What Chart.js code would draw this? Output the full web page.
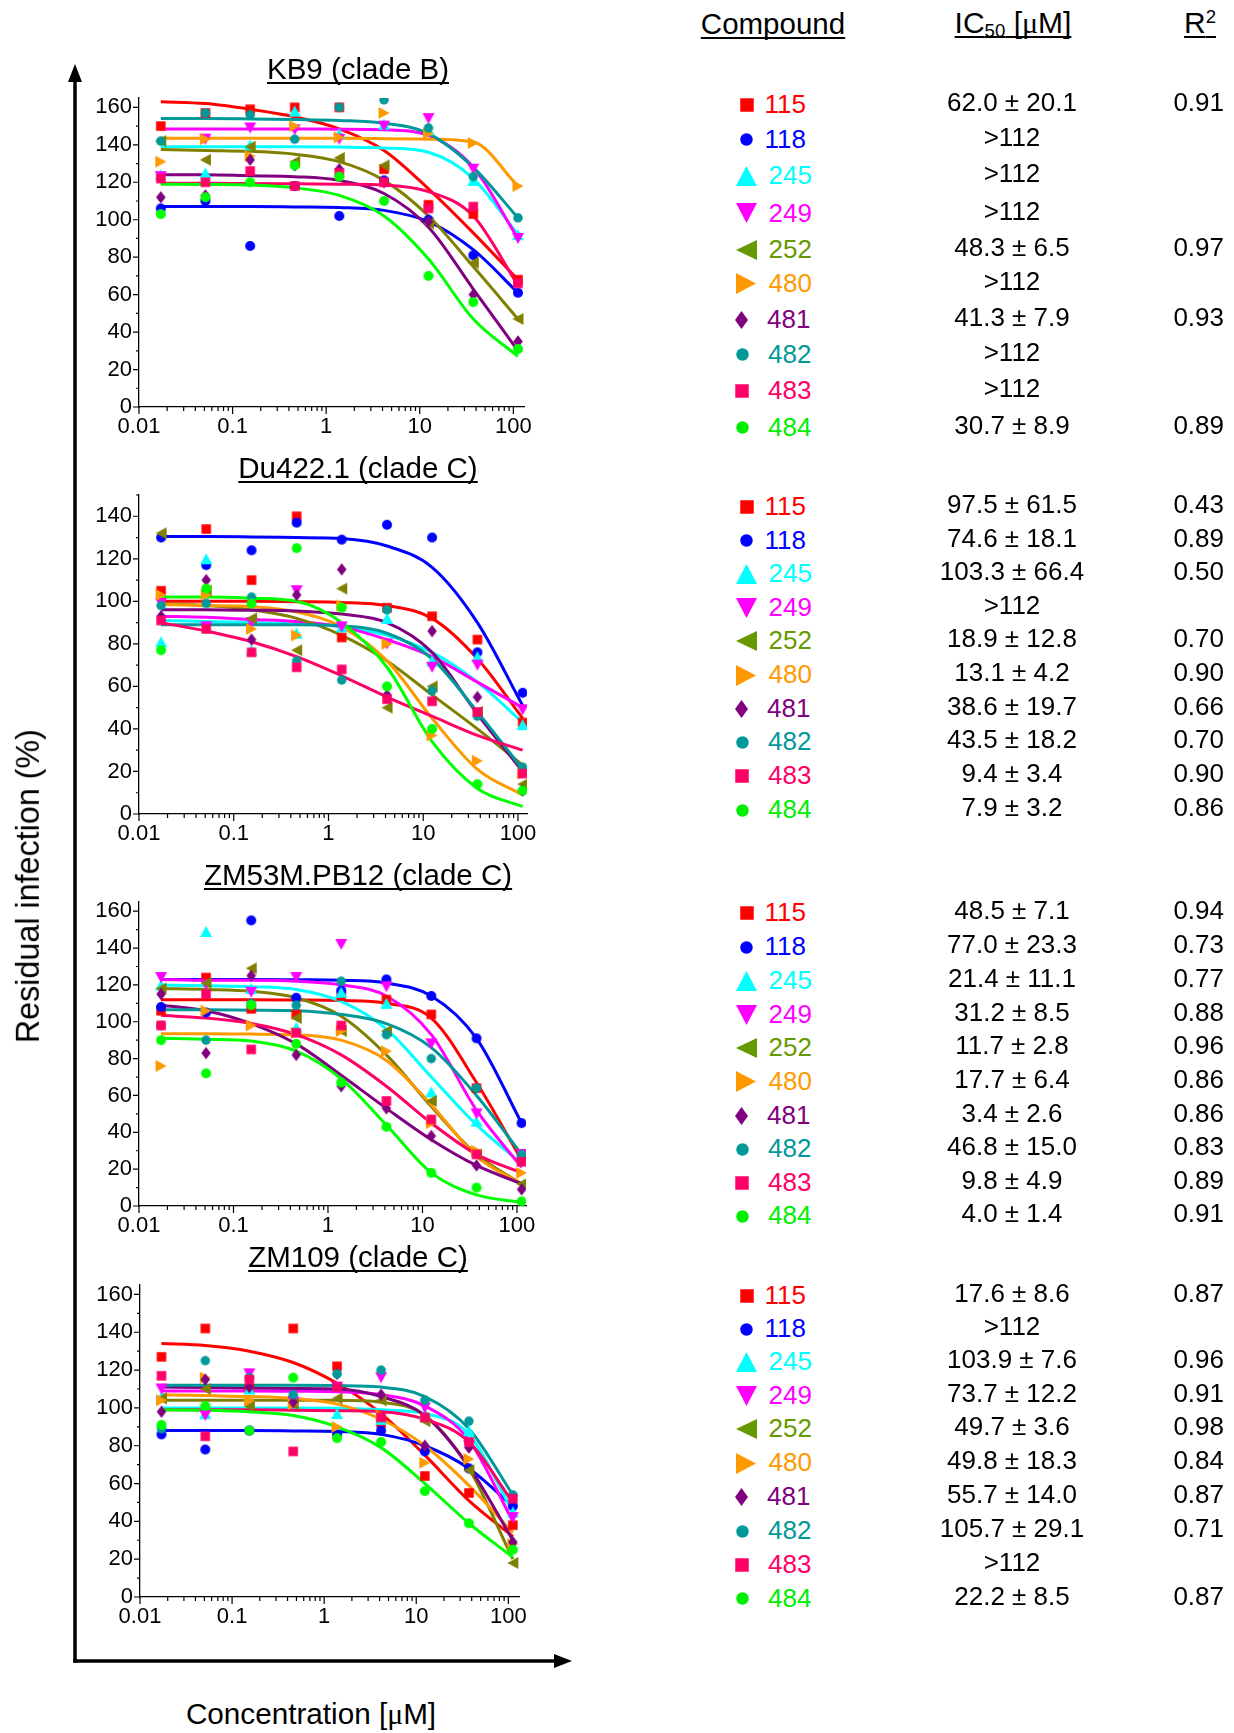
<!DOCTYPE html>
<html><head><meta charset="utf-8">
<script src="https://cdn.jsdelivr.net/npm/chart.js@4.4.0/dist/chart.umd.min.js"></script>
<style>
html,body{margin:0;padding:0;background:#fff;}
body{width:1234px;height:1733px;position:relative;overflow:hidden;font-family:"Liberation Sans",Arial,sans-serif;}
.t{position:absolute;white-space:nowrap;line-height:1;}
.u{text-decoration:underline;text-decoration-thickness:2px;text-underline-offset:3px;text-decoration-skip-ink:none;}
.mu{font-family:"Liberation Serif","Times New Roman",serif;}
.sub{font-size:0.62em;position:relative;top:0.2em;}
.sup{font-size:0.62em;position:relative;top:-0.55em;}
canvas.c{position:absolute;left:0;}
canvas.m{position:absolute;}
</style></head><body>
<svg width="1234" height="1733" style="position:absolute;left:0;top:0">
<line x1="75" y1="1662.75" x2="75" y2="79" stroke="#000" stroke-width="3.5"/>
<polygon points="75,64 68,82 82,82" fill="#000"/>
<line x1="73.25" y1="1661" x2="557" y2="1661" stroke="#000" stroke-width="3.5"/>
<polygon points="572,1661 554,1654 554,1668" fill="#000"/>
</svg>
<script>
// ---------------- DATA ----------------
const conc = [0.0171, 0.0512, 0.154, 0.461, 1.38, 4.15, 12.4, 37.3, 112];
const compounds = ['115', '118', '245', '249', '252', '480', '481', '482', '483', '484'];
const xTickValues = [0.01, 0.1, 1, 10, 100];
const xTickLabels = ['0.01', '0.1', '1', '10', '100'];
const yTicks160 = [0, 20, 40, 60, 80, 100, 120, 140, 160];
const yTicks140 = [0, 20, 40, 60, 80, 100, 120, 140];
const panelTitles = ['KB9 (clade B)', 'Du422.1 (clade C)', 'ZM53M.PB12 (clade C)', 'ZM109 (clade C)'];

// KB9 (clade B)
const kb9Points = [
  [150, 157, 159, 160, 160, 127, 108, 103, 68],
  [106, 110, 86, 118, 102, 121, 100, 81, 61],
  [124, 125, 140, 158, 146, 151, 148, 121, 92],
  [123, 143, 149, 148, 143, 150, 154, 127, 90],
  [142, 132, 139, 131, 133, 129, 98, 77, 47],
  [131, 143, 134, 150, 144, 157, 146, 141, 118],
  [112, 113, 132, 129, 127, 120, 99, 60, 35],
  [142, 157, 156, 143, 160, 164, 149, 123, 101],
  [122, 120, 126, 118, 125, 120, 106, 107, 66],
  [103, 112, 120, 129, 123, 110, 70, 56, 31]
];
const kb9Curves = [
  [163, 162, 159, 155, 148.5, 137, 116.5, 93, 68],
  [107, 107, 107, 106.8, 106.5, 105, 99, 84, 61],
  [139, 139, 139, 139, 138.8, 138.3, 136, 122, 92],
  [148.5, 148.5, 148.5, 148.5, 148.3, 148, 145, 128, 90],
  [137.5, 137, 136.5, 135, 131, 121, 102, 75, 47],
  [143.5, 143.5, 143.5, 143.5, 143.5, 143.3, 143, 141.5, 118],
  [124, 124, 123.5, 123, 121, 114, 96, 63, 30],
  [154, 154, 153.8, 153.5, 153, 151.5, 146, 128, 101],
  [119.5, 119.5, 119.3, 119.2, 119, 118.5, 115, 102, 65],
  [119, 118.8, 118.5, 117, 113, 102, 79, 47, 27]
];
const kb9IC50 = ['62.0 ± 20.1', '>112', '>112', '>112', '48.3 ± 6.5', '>112', '41.3 ± 7.9', '>112', '>112', '30.7 ± 8.9'];
const kb9R2 = ['0.91', '', '', '', '0.97', '', '0.93', '', '', '0.89'];

// Du422.1 (clade C)
const du422Points = [
  [105, 134, 110, 140, 83, 97, 93, 82, 43],
  [130, 117, 124, 137, 129, 136, 130, 76, 57],
  [81, 120, 77, 85, 88, 92, 72, 74, 42],
  [99, 88, 90, 105, 88, 80, 69, 70, 49],
  [132, 105, 92, 77, 106, 50, 60, 48, 14],
  [103, 103, 87, 84, 98, 80, 37, 25, 19],
  [93, 110, 82, 103, 115, 56, 86, 55, 11],
  [98, 99, 102, 72, 63, 96, 58, 46, 22],
  [91, 87, 76, 69, 68, 54, 53, 48, 19],
  [77, 106, 99, 125, 97, 60, 40, 14, 11]
];
const du422Curves = [
  [100, 100, 100, 99.8, 99.5, 98, 92, 73, 45],
  [130.5, 130.5, 130.3, 130, 129.5, 126, 116, 90, 51],
  [91, 90.5, 90, 89.5, 88, 84, 76, 62, 43],
  [93, 92.5, 91.5, 90.5, 88, 82, 74, 62, 50],
  [99, 98, 96, 92, 84, 72, 56, 40, 23],
  [98.5, 98, 97.5, 95, 88, 72, 45, 21, 9],
  [96, 96, 95.8, 95.5, 94, 90, 76, 47, 20],
  [89, 89, 89, 89, 88.5, 85, 73, 48, 21],
  [90, 86, 81, 74, 65, 55, 46, 37, 30],
  [102, 102, 101.5, 100, 90, 69, 34, 12, 3.5]
];
const du422IC50 = ['97.5 ± 61.5', '74.6 ± 18.1', '103.3 ± 66.4', '>112', '18.9 ± 12.8', '13.1 ± 4.2', '38.6 ± 19.7', '43.5 ± 18.2', '9.4 ± 3.4', '7.9 ± 3.2'];
const du422R2 = ['0.43', '0.89', '0.50', '', '0.70', '0.90', '0.66', '0.70', '0.90', '0.86'];

// ZM53M.PB12 (clade C)
const zm53Points = [
  [106, 124, 107, 104, 114, 112, 104, 64, 26],
  [108, 105, 155, 113, 117, 123, 114, 91, 45],
  [120, 149, 118, 97, 116, 110, 62, 46, 25],
  [124, 120, 116, 124, 142, 119, 88, 50, 28],
  [118, 121, 129, 102, 95, 95, 57, 28, 12],
  [76, 106, 98, 94, 95, 84, 45, 30, 18],
  [115, 83, 125, 82, 65, 53, 38, 22, 9],
  [98, 90, 110, 109, 122, 93, 80, 64, 28],
  [98, 115, 85, 94, 98, 57, 47, 28, 24],
  [90, 72, 109, 88, 67, 43, 18, 10, 2.5]
];
const zm53Curves = [
  [112, 112, 112, 111.8, 111.5, 110, 102, 67, 25],
  [123, 123, 123, 122.8, 122.5, 121, 114, 91, 45],
  [120, 119.5, 119, 117.5, 111, 96, 70, 44, 23],
  [123, 122.5, 122.5, 122, 120, 114, 93, 52, 21],
  [118, 117.5, 116.5, 113, 103, 82, 54, 28, 12],
  [93.5, 93.5, 93.3, 93, 90, 79, 55, 27, 12],
  [109, 106, 99, 88, 71, 53, 36, 22, 12],
  [106.5, 106.5, 106.3, 106, 104, 99, 86, 60, 28],
  [103.5, 102, 99, 93, 82, 65, 45, 28, 18],
  [91, 90.5, 89.5, 84, 69, 44, 18, 6, 2]
];
const zm53IC50 = ['48.5 ± 7.1', '77.0 ± 23.3', '21.4 ± 11.1', '31.2 ± 8.5', '11.7 ± 2.8', '17.7 ± 6.4', '3.4 ± 2.6', '46.8 ± 15.0', '9.8 ± 4.9', '4.0 ± 1.4'];
const zm53R2 = ['0.94', '0.73', '0.77', '0.88', '0.96', '0.86', '0.86', '0.83', '0.89', '0.91'];

// ZM109 (clade C)
const zm109Points = [
  [127, 142, 110, 142, 122, 92, 64, 55, 38],
  [86, 78, 88, 105, 86, 88, 77, 68, 48],
  [106, 97, 110, 103, 97, 94, 97, 88, 45],
  [110, 96, 118, 103, 111, 116, 100, 80, 42],
  [105, 110, 101, 102, 105, 104, 93, 67, 18],
  [104, 116, 104, 102, 90, 96, 71, 73, 28],
  [98, 115, 111, 103, 118, 107, 80, 79, 29],
  [89, 125, 116, 107, 118, 120, 104, 93, 54],
  [117, 85, 115, 77, 111, 95, 95, 82, 52],
  [91, 101, 88, 116, 84, 82, 56, 39, 25]
];
const zm109Curves = [
  [134, 133, 130, 124, 113, 97, 75, 51, 32],
  [88, 88, 88, 87.8, 87.5, 86, 80, 68, 48],
  [100, 100, 100, 100, 99.8, 99, 97, 86, 45],
  [109, 109, 109, 108.8, 108.5, 107, 101, 83, 40],
  [104, 104, 104, 104, 104, 103, 96, 68, 20],
  [107, 106.5, 106, 105, 102, 94, 80, 59, 34],
  [111, 110.8, 110.5, 110.3, 110, 106, 96, 69, 30],
  [112, 112, 112, 112, 111.8, 111, 106, 89, 54],
  [99, 99, 99, 98.8, 98.5, 98, 94, 82, 50],
  [99, 98.8, 98, 96, 90, 79, 60, 39, 21]
];
const zm109IC50 = ['17.6 ± 8.6', '>112', '103.9 ± 7.6', '73.7 ± 12.2', '49.7 ± 3.6', '49.8 ± 18.3', '55.7 ± 14.0', '105.7 ± 29.1', '>112', '22.2 ± 8.5'];
const zm109R2 = ['0.87', '', '0.96', '0.91', '0.98', '0.84', '0.87', '0.71', '', '0.87'];

// ---------------- STYLE / LAYOUT ----------------
const plotColors = ['#FF0000', '#0000FF', '#00FFFF', '#FF00FF', '#808000', '#FF9900', '#800080', '#009999', '#FF0066', '#00FF00'];
const legendColors = ['#FF0000', '#0000FF', '#00FFFF', '#FF00FF', '#669900', '#FF9900', '#800080', '#009999', '#FF0066', '#00EE00'];
const shapes = ['square', 'circle', 'triUp', 'triDown', 'triLeft', 'triRight', 'diamond', 'circle', 'square', 'circle'];
const plotSizes = {square: [9.5, 9.5], circle: [10, 10], triUp: [12, 11], triDown: [12, 11], triLeft: [11, 12], triRight: [11, 12], diamond: [9.5, 12.5]};
const tableSizes = {square: [13.5, 13.5], circle: [12.5, 12.5], triUp: [21, 20], triDown: [21, 20], triLeft: [21, 20], triRight: [20, 21], diamond: [13, 18]};

const panels = [
  {points: kb9Points, curves: kb9Curves, ic50: kb9IC50, r2: kb9R2, yTicks: yTicks160, ymax: 165, xmax: 130,
   box: {left: 139, right: 524, top: 98, bottom: 407}, titleBase: 78.5,
   rows: [113.5, 148, 184.5, 221.7, 258.3, 292, 328.3, 363, 399.3, 436]},
  {points: du422Points, curves: du422Curves, ic50: du422IC50, r2: du422R2, yTicks: yTicks140, ymax: 150, xmax: 124.5,
   box: {left: 139, right: 527, top: 495, bottom: 814}, titleBase: 477.5,
   rows: [515, 549, 582.5, 616.5, 649.5, 683.5, 717.5, 750.5, 784.5, 818.5]},
  {points: zm53Points, curves: zm53Curves, ic50: zm53IC50, r2: zm53R2, yTicks: yTicks160, ymax: 165, xmax: 124.6,
   box: {left: 139, right: 526, top: 902, bottom: 1206}, titleBase: 885,
   rows: [921.5, 955.5, 989, 1023, 1056.5, 1090, 1124, 1157.5, 1191, 1224.5]},
  {points: zm109Points, curves: zm109Curves, ic50: zm109IC50, r2: zm109R2, yTicks: yTicks160, ymax: 165, xmax: 130.6,
   box: {left: 140, right: 519, top: 1285, bottom: 1597}, titleBase: 1267,
   rows: [1304.5, 1337.5, 1370.5, 1404, 1437.5, 1471.5, 1505.5, 1539.5, 1573, 1606.7]}
];
const markerX = [746.5, 746.5, 746.5, 746.3, 746.5, 746.3, 741.6, 742, 742.3, 742];
const textX = [764.5, 764.5, 768.5, 768.5, 768.5, 768.5, 767, 768, 768, 768];

function makeMarker(shape, color, w, h) {
  const pad = 1;
  const c = document.createElement('canvas');
  const W = Math.ceil(w) + 2 * pad, H = Math.ceil(h) + 2 * pad;
  c.width = W; c.height = H;
  const g = c.getContext('2d');
  g.fillStyle = color;
  const cx = W / 2, cy = H / 2;
  g.beginPath();
  switch (shape) {
    case 'square': g.rect(cx - w / 2, cy - h / 2, w, h); break;
    case 'circle': g.ellipse(cx, cy, w / 2, h / 2, 0, 0, Math.PI * 2); break;
    case 'triUp': g.moveTo(cx, cy - h / 2); g.lineTo(cx + w / 2, cy + h / 2); g.lineTo(cx - w / 2, cy + h / 2); break;
    case 'triDown': g.moveTo(cx - w / 2, cy - h / 2); g.lineTo(cx + w / 2, cy - h / 2); g.lineTo(cx, cy + h / 2); break;
    case 'triLeft': g.moveTo(cx - w / 2, cy); g.lineTo(cx + w / 2, cy - h / 2); g.lineTo(cx + w / 2, cy + h / 2); break;
    case 'triRight': g.moveTo(cx + w / 2, cy); g.lineTo(cx - w / 2, cy - h / 2); g.lineTo(cx - w / 2, cy + h / 2); break;
    case 'diamond': g.moveTo(cx, cy - h / 2); g.lineTo(cx + w / 2, cy); g.lineTo(cx, cy + h / 2); g.lineTo(cx - w / 2, cy); break;
  }
  g.closePath(); g.fill();
  return c;
}

function addText(html, x, baseline, size, align, color, cls) {
  const d = document.createElement('div');
  d.className = 't' + (cls ? ' ' + cls : '');
  d.style.fontSize = size + 'px';
  d.style.color = color || '#000';
  d.style.top = (baseline - 0.8465 * size) + 'px';
  if (align === 'left') { d.style.left = x + 'px'; }
  else if (align === 'center') { d.style.left = (x - 500) + 'px'; d.style.width = '1000px'; d.style.textAlign = 'center'; }
  else { d.style.left = (x - 1000) + 'px'; d.style.width = '1000px'; d.style.textAlign = 'right'; }
  d.innerHTML = html;
  document.body.appendChild(d);
  return d;
}

Chart.defaults.font.family = '"Liberation Sans", Arial, sans-serif';
Chart.defaults.font.size = 22;
Chart.defaults.color = '#000';

const tickPlugin = {
  id: 'axisTicks',
  afterDraw(chart) {
    const ctx = chart.ctx, xs = chart.scales.x, ys = chart.scales.y, a = chart.chartArea;
    ctx.save();
    ctx.strokeStyle = '#000';
    ctx.lineWidth = 1.2;
    ctx.beginPath();
    for (let d = -2; d <= 2; d++) {
      for (let k = 1; k <= 9; k++) {
        const v = k * Math.pow(10, d);
        if (v > xs.max) break;
        const px = xs.getPixelForValue(v);
        const len = k === 1 ? 7 : 4;
        ctx.moveTo(px, a.bottom); ctx.lineTo(px, a.bottom + len);
      }
    }
    for (let v = 0; v <= ys.max; v += 10) {
      const py = ys.getPixelForValue(v);
      const len = v % 20 === 0 ? 6 : 3;
      ctx.moveTo(a.left, py); ctx.lineTo(a.left - len, py);
    }
    ctx.stroke();
    ctx.restore();
  }
};

const plotMarkers = shapes.map((s, i) => makeMarker(s, plotColors[i], plotSizes[s][0] * (i === 7 ? 0.95 : 1), plotSizes[s][1] * (i === 7 ? 0.95 : 1)));

const CW = 560, PADT = 25, XH = 40, PADB = 5;
panels.forEach((p, pi) => {
  const b = p.box;
  const cv = document.createElement('canvas');
  cv.className = 'c';
  const H = (b.bottom - b.top) + PADT + XH + PADB;
  cv.width = CW; cv.height = H;
  cv.style.width = CW + 'px'; cv.style.height = H + 'px';
  cv.style.top = (b.top - PADT) + 'px';
  document.body.appendChild(cv);

  const datasets = [];
  compounds.forEach((c, i) => {
    datasets.push({
      label: c + ' data',
      data: conc.map((x, j) => ({x: x, y: p.points[i][j]})),
      pointStyle: plotMarkers[i], pointRadius: 6, showLine: false, order: 10 - i
    });
  });
  compounds.forEach((c, i) => {
    datasets.push({
      label: c + ' fit',
      data: conc.map((x, j) => ({x: x, y: p.curves[i][j]})),
      showLine: true, borderColor: plotColors[i], borderWidth: 3, pointRadius: 0,
      cubicInterpolationMode: 'monotone', fill: false, order: 30 - i
    });
  });

  new Chart(cv, {
    type: 'scatter',
    data: {datasets: datasets},
    options: {
      responsive: false, animation: false, events: [],
      layout: {padding: {left: 0, right: CW - b.right, top: PADT, bottom: PADB}},
      plugins: {legend: {display: false}, tooltip: {enabled: false}},
      scales: {
        x: {
          type: 'logarithmic', min: 0.01, max: p.xmax,
          grid: {display: false, drawTicks: false},
          border: {display: true, color: '#000', width: 1.3},
          afterBuildTicks: (s) => { s.ticks = xTickValues.map(v => ({value: v})); },
          afterFit: (s) => { s.height = XH; s.paddingLeft = 0; s.paddingRight = 0; },
          ticks: {autoSkip: false, maxRotation: 0, minRotation: 0, padding: 7, color: '#000',
            font: {size: 22, lineHeight: 1.2},
            callback: (v) => { const k = xTickValues.indexOf(v); return k >= 0 ? xTickLabels[k] : ''; }}
        },
        y: {
          type: 'linear', min: 0, max: p.ymax,
          grid: {display: false, drawTicks: false},
          border: {display: true, color: '#000', width: 1.3},
          afterBuildTicks: (s) => { s.ticks = p.yTicks.map(v => ({value: v})); },
          afterFit: (s) => { s.width = b.left; s.paddingTop = 0; s.paddingBottom = 0; },
          ticks: {autoSkip: false, padding: 7, color: '#000', font: {size: 22},
            callback: (v) => String(v)}
        }
      }
    },
    plugins: [tickPlugin]
  });

  // panel title
  addText('<span class="u">' + panelTitles[pi] + '</span>', 358, p.titleBase, 29.5, 'center');

  // table rows
  compounds.forEach((c, i) => {
    const base = p.rows[i];
    const s = shapes[i];
    const m = makeMarker(s, legendColors[i], tableSizes[s][0], tableSizes[s][1]);
    m.className = 'm';
    m.style.left = (markerX[i] - m.width / 2) + 'px';
    m.style.top = (base - 8.5 - m.height / 2) + 'px';
    document.body.appendChild(m);
    addText(c, textX[i], base, 26, 'left', legendColors[i]);
    addText(p.ic50[i], 1012, base - 2, 26, 'center');
    if (p.r2[i]) addText(p.r2[i], 1224, base - 2, 26, 'right');
  });
});

// table header
addText('<span class="u">Compound</span>', 773, 33.5, 29.5, 'center');
addText('<span class="u">IC<span class="sub">50</span> [<span class="mu">μ</span>M]</span>', 1013, 33.5, 30, 'center');
addText('<span class="u">R<span class="sup">2</span></span>', 1200, 33.5, 30, 'center');

// axis titles
addText('Concentration [<span class="mu">μ</span>M]', 311, 1724, 29.7, 'center');
(function () {
  const fs = 32.3, cx = 27.5, cy = 886;
  const d = document.createElement('div');
  d.className = 't';
  d.style.fontSize = fs + 'px';
  d.style.width = '500px';
  d.style.height = fs + 'px';
  d.style.textAlign = 'center';
  d.style.left = (cx - 250) + 'px';
  d.style.top = (cy - fs / 2) + 'px';
  d.style.transform = 'rotate(-90deg)';
  d.textContent = 'Residual infection (%)';
  document.body.appendChild(d);
})();
</script>
</body></html>
